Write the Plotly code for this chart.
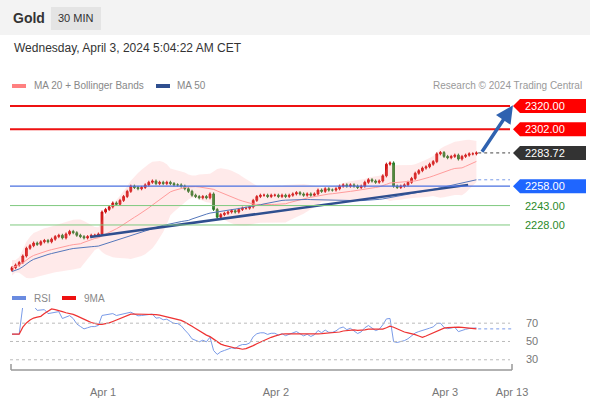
import plotly.graph_objects as go
import numpy as np
import pandas as pd

closes = [2195,2197,2199,2204,2210,2212,2214,2213,2215,2216,2215,
          2217,2219,2220,2218,2221,2223,2222,2220,2219,2218,2219,2220,2220,
          2221,2238,2240,2242,2245,2244,2247,2250,2254,2258,2257,2256,2257,2259,2261,2262,
          2260,2261,2260,2261,2260,2259,2259,2258,2256,2254,2251,2250,2249,2250,2249,2252,
          2240,2234,2236,2237,2238,2239,2238,2240,2241,2241,2242,2247,2250,2251,2251,2250,
          2251,2251,2250,2251,2250,2251,2252,2253,2252,2251,2252,2251,2252,2255,2254,2256,
          2255,2255,2256,2258,2259,2258,2259,2258,2257,2258,2261,2263,2262,2261,2262,2266,
          2275,2276,2258,2257,2258,2259,2261,2264,2268,2270,2272,2273,2275,2277,2283,2284,
          2281,2280,2281,2282,2279,2281,2282,2283,2283,2283.72]
opens = [2193] + closes[:-1]
tick_vals = [25.3, 73.3, 120.3, 138.9]
tick_text = ["Apr 1", "Apr 2", "Apr 3", "Apr 13"]
levels_red = [2320.00, 2302.00]
level_blue = 2258.00
levels_green = [2243.00, 2228.00]
last_price = 2283.72
trend_x = [21.7, 126.7]
trend_y = [2218.7, 2259.0]

n = len(closes)
x = np.arange(n)
c = pd.Series(closes, dtype=float)
o = pd.Series(opens, dtype=float)
highs = np.maximum(o, c) + 1.2
lows = np.minimum(o, c) - 1.2
ma20 = c.rolling(20, min_periods=1).mean()
sd20 = c.rolling(20, min_periods=2).std().fillna(2)
up = ma20 + 2 * sd20 + 2
dn = ma20 - 2 * sd20 - 2
ma50 = c.rolling(50, min_periods=1).mean() - 3
d = c.diff().fillna(0)
g = d.clip(lower=0).ewm(alpha=1/14, adjust=False).mean()
l = (-d.clip(upper=0)).ewm(alpha=1/14, adjust=False).mean()
raw = 100 - 100 / (1 + g / l.replace(0, 1e-9))
rsi = 55 + (raw - 55) * 0.75
rsi.iloc[:3] = 58
rsi_ma = rsi.rolling(9, min_periods=1).mean()

PX = 3.6
def xp(px):
    return (px - 12) / PX

fig = go.Figure()
fig.add_trace(go.Scatter(x=x, y=up, mode="lines", line=dict(width=0), showlegend=False, hoverinfo="skip"))
fig.add_trace(go.Scatter(x=x, y=dn, mode="lines", line=dict(width=0), fill="tonexty",
                         fillcolor="rgba(255,140,140,0.18)", showlegend=False, hoverinfo="skip"))
fig.add_trace(go.Scatter(x=x, y=ma20, mode="lines", line=dict(color="#ff9c9c", width=1), showlegend=False))
fig.add_trace(go.Scatter(x=x, y=ma50, mode="lines", line=dict(color="#5577bb", width=1), showlegend=False))
fig.add_trace(go.Candlestick(x=x, open=o, high=highs, low=lows, close=c,
                             increasing=dict(line=dict(color="#cc1111", width=1), fillcolor="#dd2222"),
                             decreasing=dict(line=dict(color="#2a7a2a", width=1), fillcolor="#2f8f2f"),
                             whiskerwidth=0, showlegend=False))
fig.add_trace(go.Scatter(x=trend_x, y=trend_y, mode="lines", line=dict(color="#2f4f8f", width=2.5), showlegend=False))
fig.add_trace(go.Scatter(x=x, y=rsi, mode="lines", line=dict(color="#7a9be8", width=1), yaxis="y2", showlegend=False))
fig.add_trace(go.Scatter(x=x, y=rsi_ma, mode="lines", line=dict(color="#ee3333", width=1.2), yaxis="y2", showlegend=False))

shapes = []
xend = xp(510)
xstart = xp(10)
for lv in levels_red:
    shapes.append(dict(type="line", x0=xstart, x1=xend, y0=lv, y1=lv, line=dict(color="#ee1111", width=2)))
shapes.append(dict(type="line", x0=xstart, x1=xend, y0=level_blue, y1=level_blue, line=dict(color="#4a70e0", width=1.3)))
for lv in levels_green:
    shapes.append(dict(type="line", x0=xstart, x1=xend, y0=lv, y1=lv, line=dict(color="#7fc97f", width=1)))
shapes.append(dict(type="line", x0=n - 0.5, x1=xend, y0=last_price, y1=last_price, line=dict(color="#444", width=1, dash="dot")))
shapes.append(dict(type="line", x0=n - 0.5, x1=xend, y0=ma50.iloc[-1], y1=ma50.iloc[-1], line=dict(color="#7a9be8", width=1, dash="dot")))
for lv in [70, 50, 30]:
    shapes.append(dict(type="line", x0=xstart, x1=xend, y0=lv, y1=lv, yref="y2", line=dict(color="#bbbbbb", width=1, dash="dot")))
shapes.append(dict(type="line", x0=n - 0.5, x1=xp(514), y0=rsi_ma.iloc[-1], y1=rsi_ma.iloc[-1], yref="y2", line=dict(color="#7a9be8", width=1, dash="dot")))
shapes.append(dict(type="rect", xref="paper", yref="paper", x0=0, x1=1, y0=1 - 35/400, y1=1, fillcolor="#f3f3f3", line=dict(width=0), layer="below"))
shapes.append(dict(type="rect", xref="paper", yref="paper", x0=51/590, x1=101/590, y0=1 - 30/400, y1=1 - 7/400, fillcolor="#e4e4e4", line=dict(width=0)))
ya = 1 - 370/400
shapes.append(dict(type="line", xref="paper", yref="paper", x0=11/590, x1=512/590, y0=ya, y1=ya, line=dict(color="#999", width=1.5)))
for px in [11, 512]:
    shapes.append(dict(type="line", xref="paper", yref="paper", x0=px/590, x1=px/590, y0=ya, y1=ya + 6/400, line=dict(color="#999", width=1.5)))
hu = 7 / 1.293
for lv, col in [(2320.00, "#ff0000"), (2302.00, "#ff0000"), (last_price, "#333333"), (level_blue, "#1f66ff")]:
    a, b, cc = 513/590, 520/590, 586/590
    shapes.append(dict(type="path", xref="paper", yref="y",
                       path=f"M {a},{lv} L {b},{lv+hu} L {cc},{lv+hu} L {cc},{lv-hu} L {b},{lv-hu} Z",
                       fillcolor=col, line=dict(width=0)))

ann = []
font = "Liberation Sans, Arial"
for lv in [2320.00, 2302.00, last_price, level_blue]:
    ann.append(dict(xref="paper", yref="y", x=545/590, y=lv, text=f"{lv:.2f}", showarrow=False,
                    font=dict(color="white", size=11, family=font), xanchor="center"))
for lv in levels_green:
    ann.append(dict(xref="paper", yref="y", x=545/590, y=lv, text=f"{lv:.2f}", showarrow=False,
                    font=dict(color="#2a8a2a", size=11, family=font), xanchor="center"))
ann.append(dict(x=xp(513), y=2320.5, ax=xp(481), ay=2283.5, xref="x", yref="y", axref="x", ayref="y",
                showarrow=True, arrowhead=2, arrowsize=1, arrowwidth=3.5, arrowcolor="#2f62b0", text=""))
def txt(px, py, s, size, color, anchor="left", bold=False):
    ann.append(dict(xref="paper", yref="paper", x=px/590, y=1 - py/400, text=f"<b>{s}</b>" if bold else s,
                    showarrow=False, xanchor=anchor, yanchor="middle", font=dict(size=size, color=color, family=font)))
txt(11, 18, "Gold", 14, "#333", bold=True)
txt(76, 18, "30 MIN", 11, "#333", anchor="center")
txt(12, 48, "Wednesday, April 3, 2024 5:04:22 AM CET", 12, "#333")
txt(32, 86, "MA 20 + Bollinger Bands", 10, "#888")
txt(175, 86, "MA 50", 10, "#888")
txt(584, 86, "Research © 2024 Trading Central", 10, "#999", anchor="right")
txt(32, 298, "RSI", 10, "#888")
txt(82, 298, "9MA", 10, "#888")
for lv, py in [(70, 323), (50, 341), (30, 359)]:
    txt(524, py, str(lv), 11, "#777")
for px, col in [(12, "#ff8080"), (156, "#2f4f8f")]:
    shapes.append(dict(type="rect", xref="paper", yref="paper", x0=px/590, x1=(px+14)/590, y0=1-88/400, y1=1-84/400, fillcolor=col, line=dict(width=0)))
for px, col in [(12, "#6a8be0"), (62, "#ee1111")]:
    shapes.append(dict(type="rect", xref="paper", yref="paper", x0=px/590, x1=(px+14)/590, y0=1-300/400, y1=1-296/400, fillcolor=col, line=dict(width=0)))

fig.update_layout(
    width=590, height=400, margin=dict(l=0, r=0, t=0, b=0),
    paper_bgcolor="white", plot_bgcolor="rgba(0,0,0,0)", showlegend=False,
    shapes=shapes, annotations=ann,
    xaxis=dict(range=[xp(0), xp(590)], tickvals=tick_vals, ticktext=tick_text, showgrid=False, zeroline=False,
               anchor="free", position=1 - 384/400, ticks="", tickfont=dict(size=11, color="#777", family=font),
               rangeslider=dict(visible=False), showline=False),
    yaxis=dict(domain=[1 - 282/400, 1 - 95/400], range=[2183.9, 2328.5], visible=False),
    yaxis2=dict(domain=[1 - 368/400, 1 - 308/400], range=[21, 86.6], visible=False),
)
fig.write_html("out.html", config={"displayModeBar": False},
               post_script="document.body.style.margin='0';document.body.style.overflow='hidden';")
